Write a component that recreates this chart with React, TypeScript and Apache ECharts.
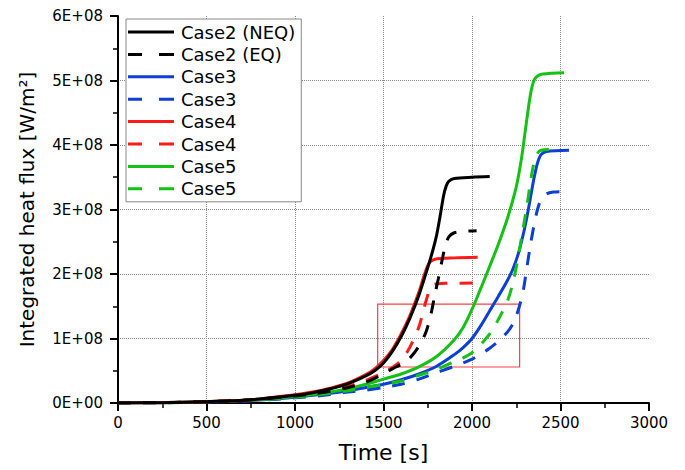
import React, { useEffect, useRef } from "react";
import * as echarts from "echarts";

// Time [s] and integrated heat flux [1E+08 W/m2]
const case2NeqT = [0, 250, 500, 750, 1000, 1100, 1200, 1300, 1400, 1450, 1500, 1550, 1600, 1650, 1700, 1750, 1780, 1800, 1820, 1840, 1855, 1870, 1900, 2000, 2100];
const case2NeqQ = [0, 0.005, 0.02, 0.05, 0.12, 0.16, 0.22, 0.3, 0.42, 0.5, 0.62, 0.8, 1.03, 1.32, 1.67, 2.1, 2.38, 2.6, 2.9, 3.22, 3.37, 3.44, 3.48, 3.5, 3.51];

const case2EqT = [0, 250, 500, 750, 1000, 1100, 1200, 1300, 1400, 1500, 1550, 1600, 1650, 1700, 1740, 1770, 1790, 1810, 1830, 1850, 1870, 1900, 1950, 2026];
const case2EqQ = [0, 0.005, 0.02, 0.05, 0.11, 0.14, 0.18, 0.24, 0.32, 0.45, 0.53, 0.6, 0.7, 0.88, 1.1, 1.4, 1.68, 1.93, 2.2, 2.45, 2.58, 2.64, 2.66, 2.67];

const case3T = [0, 250, 500, 750, 1000, 1200, 1300, 1400, 1500, 1600, 1700, 1800, 1900, 1950, 2000, 2050, 2100, 2150, 2200, 2230, 2260, 2290, 2310, 2330, 2350, 2370, 2390, 2420, 2548];
const case3Q = [0, 0.004, 0.018, 0.04, 0.09, 0.15, 0.19, 0.24, 0.29, 0.36, 0.45, 0.57, 0.75, 0.86, 1.0, 1.2, 1.43, 1.66, 1.9, 2.07, 2.3, 2.62, 2.88, 3.18, 3.48, 3.72, 3.85, 3.9, 3.92];

const case3EqT = [0, 250, 500, 750, 1000, 1200, 1300, 1400, 1500, 1600, 1700, 1800, 1900, 2000, 2050, 2100, 2150, 2200, 2230, 2250, 2270, 2290, 2310, 2330, 2350, 2370, 2390, 2420, 2460, 2550];
const case3EqQ = [0, 0.004, 0.016, 0.035, 0.08, 0.13, 0.17, 0.2, 0.24, 0.29, 0.37, 0.47, 0.57, 0.68, 0.76, 0.85, 0.96, 1.1, 1.22, 1.35, 1.52, 1.75, 2.1, 2.45, 2.75, 3.0, 3.15, 3.24, 3.27, 3.28];

const case4T = [0, 250, 500, 750, 1000, 1100, 1200, 1300, 1400, 1450, 1500, 1550, 1600, 1650, 1700, 1730, 1750, 1765, 1790, 1900, 2032];
const case4Q = [0, 0.005, 0.02, 0.05, 0.13, 0.17, 0.23, 0.31, 0.44, 0.53, 0.66, 0.83, 1.07, 1.36, 1.72, 1.98, 2.13, 2.19, 2.23, 2.25, 2.26];

const case4EqT = [0, 250, 500, 750, 1000, 1100, 1200, 1300, 1400, 1500, 1550, 1600, 1650, 1700, 1725, 1750, 1770, 1790, 1850, 2032];
const case4EqQ = [0, 0.005, 0.02, 0.05, 0.12, 0.15, 0.2, 0.26, 0.35, 0.47, 0.55, 0.66, 0.87, 1.18, 1.43, 1.67, 1.8, 1.84, 1.855, 1.86];

const case5T = [0, 250, 500, 750, 1000, 1200, 1300, 1400, 1500, 1600, 1700, 1800, 1900, 1950, 2000, 2050, 2100, 2150, 2200, 2250, 2280, 2300, 2320, 2335, 2350, 2370, 2400, 2520];
const case5Q = [0, 0.005, 0.02, 0.045, 0.1, 0.17, 0.22, 0.29, 0.37, 0.45, 0.56, 0.72, 0.98, 1.17, 1.45, 1.78, 2.12, 2.47, 2.86, 3.35, 3.8, 4.2, 4.6, 4.85, 5.0, 5.07, 5.1, 5.12];

const case5EqT = [0, 250, 500, 750, 1000, 1200, 1300, 1400, 1500, 1600, 1700, 1800, 1900, 1950, 2000, 2050, 2100, 2150, 2200, 2230, 2260, 2285, 2310, 2330, 2350, 2370, 2390, 2458];
const case5EqQ = [0, 0.004, 0.018, 0.04, 0.09, 0.15, 0.19, 0.24, 0.29, 0.34, 0.43, 0.52, 0.64, 0.7, 0.78, 0.91, 1.07, 1.3, 1.58, 1.85, 2.25, 2.65, 3.05, 3.42, 3.72, 3.87, 3.92, 3.93];

// highlighted region [t, q] corners
const boxCorner1 = [1467, 1.534];
const boxCorner2 = [2269, 0.558];

const legendNames = ["Case2 (NEQ)", "Case2 (EQ)", "Case3", "Case3 EQ", "Case4", "Case4 EQ", "Case5", "Case5 EQ"];
const legendLabels = ["Case2 (NEQ)", "Case2 (EQ)", "Case3", "Case3", "Case4", "Case4", "Case5", "Case5"];

const xTicks = { min: 0, max: 3000, interval: 500 };
const yTicks = { min: 0, max: 6, interval: 1 };

const E8 = 1e8;
const FONT = "DejaVu Sans";
const DASH = [13, 12];
const SOLID_ICON = "path://M0,0h46v3h-46z";
const DASH_ICON = "path://M0,0h14v3h-14z M31,0h14v3h-14z M45,0h1v3h-1z";

const toData = (t: number[], q: number[]) => t.map((x, i) => [x, q[i] * E8]);

export default function App() {
  const ref = useRef<HTMLDivElement>(null);
  useEffect(() => {
    if (!ref.current) return;
    const chart = echarts.init(ref.current, undefined, { renderer: "svg" });
    const mk = (name: string, t: number[], q: number[], color: string, dashed: boolean, extra: any = {}) => ({
      name,
      type: "line",
      data: toData(t, q),
      symbol: "none",
      smooth: 0.3,
      lineStyle: { color, width: 3, type: dashed ? DASH : "solid" },
      itemStyle: { color },
      ...extra,
    });
    const blue = "#0b3fd6";
    const green = "#14c114";
    const red = "#ff1a1a";
    const black = "#000000";
    const series: any[] = [
      mk("Case3 EQ", case3EqT, case3EqQ, blue, true),
      mk("Case3", case3T, case3Q, blue, false),
      mk("Case5 EQ", case5EqT, case5EqQ, green, true),
      mk("Case5", case5T, case5Q, green, false),
      mk("Case4 EQ", case4EqT, case4EqQ, red, true),
      mk("Case4", case4T, case4Q, red, false),
      mk("Case2 (EQ)", case2EqT, case2EqQ, black, true),
      mk("Case2 (NEQ)", case2NeqT, case2NeqQ, black, false, {
        markArea: {
          silent: true,
          itemStyle: { color: "rgba(0,0,0,0)", borderColor: "#ff4040", borderWidth: 1.2 },
          data: [[
            { coord: [boxCorner1[0], boxCorner1[1] * E8] },
            { coord: [boxCorner2[0], boxCorner2[1] * E8] },
          ]],
        },
      }),
    ];
    const dashedLegend = new Set(["Case2 (EQ)", "Case3 EQ", "Case4 EQ", "Case5 EQ"]);
    const axisCommon = {
      axisLine: { show: true, lineStyle: { color: "#000", width: 2 } },
      axisTick: { show: true, inside: false, length: 8, lineStyle: { color: "#000", width: 2 } },
      minorTick: { show: true, splitNumber: 2, length: 5, lineStyle: { color: "#000", width: 1.5 } },
      splitLine: {
        show: true,
        showMinLine: false,
        showMaxLine: false,
        lineStyle: { color: "#8a8a8a", type: "dotted", width: 1 },
      },
      minorSplitLine: { show: false },
    };
    chart.setOption({
      animation: false,
      backgroundColor: "#ffffff",
      grid: { left: 118, right: 36, top: 16, bottom: 67, containLabel: false },
      legend: {
        orient: "vertical",
        left: 126,
        top: 19,
        padding: [3, 6, 3, 2],
        itemWidth: 46,
        itemHeight: 3,
        itemGap: 2.4,
        backgroundColor: "#ffffff",
        borderColor: "#888888",
        borderWidth: 1,
        borderRadius: 0,
        selectedMode: false,
        textStyle: { fontFamily: FONT, fontSize: 18, color: "#000", lineHeight: 20, padding: [0, 0, 0, 2] },
        formatter: (name: string) => legendLabels[legendNames.indexOf(name)] ?? name,
        data: legendNames.map((n) => ({
          name: n,
          icon: dashedLegend.has(n) ? DASH_ICON : SOLID_ICON,
        })),
      },
      xAxis: {
        type: "value",
        min: xTicks.min,
        max: xTicks.max,
        interval: xTicks.interval,
        ...axisCommon,
        axisLabel: { fontFamily: FONT, fontSize: 15, color: "#000", margin: 12, formatter: (v: number) => String(v) },
        name: "Time [s]",
        nameLocation: "middle",
        nameGap: 38,
        nameTextStyle: { fontFamily: FONT, fontSize: 22, color: "#000" },
      },
      yAxis: {
        type: "value",
        min: yTicks.min * E8,
        max: yTicks.max * E8,
        interval: yTicks.interval * E8,
        ...axisCommon,
        axisLabel: {
          fontFamily: FONT,
          fontSize: 15,
          color: "#000",
          margin: 15,
          formatter: (v: number) => `${Math.round(v / E8)}E+${v === 0 ? "00" : "08"}`,
        },
        name: "Integrated heat flux [W/m²]",
        nameLocation: "middle",
        nameGap: 81,
        nameRotate: 90,
        nameTextStyle: { fontFamily: FONT, fontSize: 20, color: "#000" },
      },
      series,
    });
    return () => chart.dispose();
  }, []);
  return (
    <div
      ref={ref}
      style={{ position: "fixed", left: 0, top: 0, width: 685, height: 470, background: "#fff" }}
    />
  );
}
